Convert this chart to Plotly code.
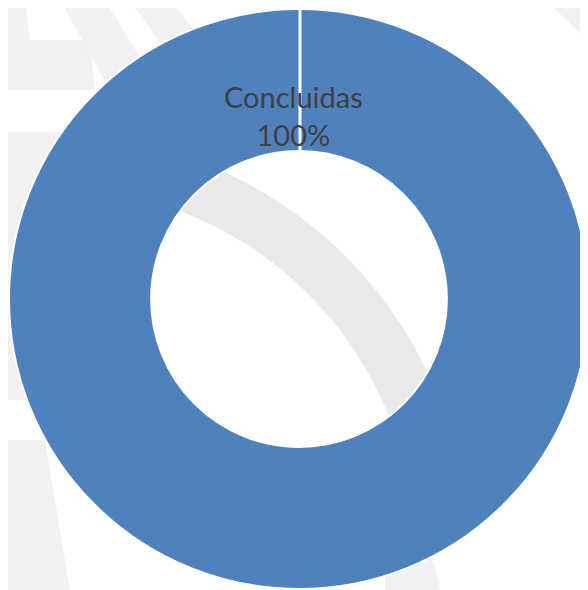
import math
import plotly.graph_objects as go

# Data
labels = ["Concluidas"]
values = [100]
colors = ["#4F81BD"]

OFF = 8  # page body margin
W, H = 581, 582
ML, MT, MR, MB = 1, 1, 0, 1
PW, PH = W - ML - MR, H - MT - MB


def to_paper(px, py):
    # px, py are page pixel coordinates
    fx, fy = px - OFF, py - OFF
    return (fx - ML) / PW, 1 - (fy - MT) / PH


def poly_path(pts):
    conv = [to_paper(x, y) for x, y in pts]
    return "M " + " L ".join(f"{x:.4f},{y:.4f}" for x, y in conv) + " Z"


def annulus_sector(cx, cy, r1, r2, a0, a1, n=40):
    outer = [(cx + r2 * math.cos(math.radians(a0 + (a1 - a0) * i / n)),
              cy - r2 * math.sin(math.radians(a0 + (a1 - a0) * i / n))) for i in range(n + 1)]
    inner = [(cx + r1 * math.cos(math.radians(a1 - (a1 - a0) * i / n)),
              cy - r1 * math.sin(math.radians(a1 - (a1 - a0) * i / n))) for i in range(n + 1)]
    return outer + inner


total = sum(values)
pct = [round(v / total * 100) for v in values]

fig = go.Figure(go.Pie(
    labels=labels,
    values=values,
    hole=0.51,
    sort=False,
    direction="clockwise",
    rotation=0,
    marker=dict(colors=colors, line=dict(color="white", width=2)),
    textinfo="none",
    hoverinfo="label+percent",
    showlegend=False,
))

wm = "#e9e9e9"
wm2 = "#f1f1f1"


def wm_shape(pts, color=wm2):
    return dict(type="path", layer="below", xref="paper", yref="paper",
                path=poly_path(pts), fillcolor=color, line=dict(width=0))


shapes = [
    # watermark arc band (visible through the hole)
    wm_shape(annulus_sector(50, 552, 365, 418, 20, 85), wm),
    # faint watermark areas, left side
    wm_shape([(0, 0), (25, 0), (30, 40), (90, 40), (95, 90), (0, 90)]),
    wm_shape([(60, 0), (105, 0), (160, 90), (110, 90)]),
    wm_shape([(130, 0), (170, 0), (210, 50), (165, 50)]),
    wm_shape([(0, 132), (90, 132), (60, 250), (30, 400), (0, 400)]),
    wm_shape([(0, 440), (45, 440), (70, 590), (0, 590)]),
    # top-right faint stroke
    wm_shape([(545, 0), (588, 0), (588, 40)]),
    # bottom-right faint stroke
    wm_shape([(385, 560), (430, 545), (440, 590), (385, 590)]),
]

# white seam at the start of the slice (top)
sx0, sy0 = to_paper(300, 9)
sx1, sy1 = to_paper(300, 152)
shapes.append(dict(type="line", layer="above", xref="paper", yref="paper",
                   x0=sx0, y0=sy0, x1=sx1, y1=sy1,
                   line=dict(color="white", width=3)))

ax, ay = to_paper(293, 115)
fig.update_layout(
    width=W, height=H,
    margin=dict(l=ML, r=MR, t=MT, b=MB, pad=0),
    paper_bgcolor="white",
    plot_bgcolor="white",
    shapes=shapes,
    annotations=[dict(
        text=f"{labels[0]}<br>{pct[0]}%",
        x=ax, y=ay, xref="paper", yref="paper",
        xanchor="center", yanchor="middle",
        showarrow=False,
        font=dict(family="Lato, Open Sans, sans-serif", size=29, color="#404040"),
    )],
)

fig.write_html("out.html")
